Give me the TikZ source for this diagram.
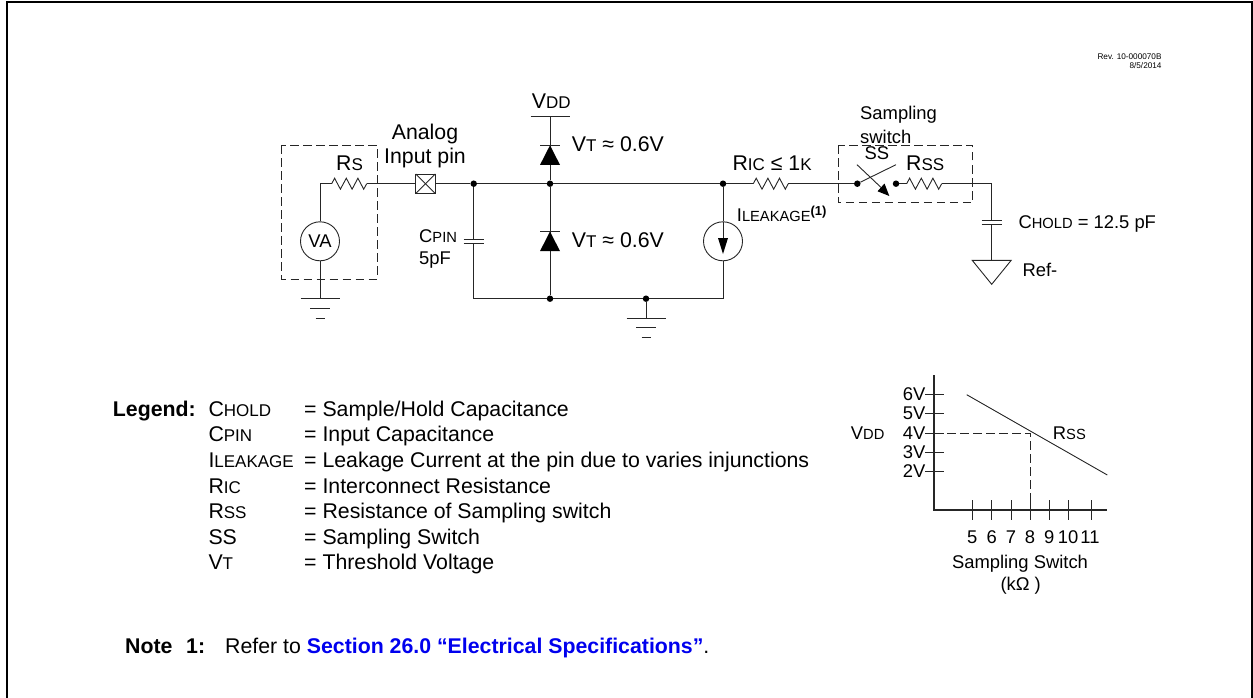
\documentclass[tikz,border=0pt]{standalone}
\usepackage{fontspec}
\setmainfont{Liberation Sans}
\usetikzlibrary{positioning, calc}

\newcommand{\lc}[1]{{\fontsize{17}{19}\selectfont #1}}
\newcommand{\ls}[1]{{\fontsize{14.7}{17}\selectfont #1}}

\tikzset{
    wire/.style={draw=black!85, line width=0.9pt},
    lbl/.style={anchor=base west, inner sep=0pt, font=\fontsize{21.3}{24}\selectfont},
    clbl/.style={anchor=base, inner sep=0pt, font=\fontsize{21.3}{24}\selectfont},
    slbl/.style={anchor=base west, inner sep=0pt, font=\fontsize{18.4}{22}\selectfont},
    sclbl/.style={anchor=base, inner sep=0pt, font=\fontsize{18.4}{22}\selectfont},
    fence/.style={draw=black!85, line width=0.9pt, dash pattern=on 8.5pt off 4.5pt},
    junction/.style={circle, fill=black, inner sep=0pt, minimum size=6.5pt},
    source/.style={circle, draw=black!85, line width=0.9pt, inner sep=0pt, minimum size=39pt},
    pinbox/.style={draw=black!85, line width=0.9pt, minimum size=19.5pt, inner sep=0pt,
        path picture={
            \draw[wire] (path picture bounding box.north west) -- (path picture bounding box.south east);
            \draw[wire] (path picture bounding box.south west) -- (path picture bounding box.north east);
        }},
    pics/ground/.style={code={
        \draw[wire] (-19.5,0) -- (19.5,0) (-10,9.7) -- (10,9.7) (-4.5,19.4) -- (4.5,19.4);
    }},
    pics/zigzag/.style={code={
        \draw[wire] (0,0) -- (2.9,-5.5) -- (8.7,5.5) -- (14.6,-5.5) -- (20.4,5.5) -- (26.2,-5.5) -- (32,5.5) -- (35,0);
    }},
    pics/diodeup/.style={code={
        \fill[black] (0,0) -- (10,19.6) -- (-10,19.6) -- cycle;
        \draw[wire] (-10,0) -- (10,0);
    }},
    pics/plates/.style={code={
        \draw[wire] (-10,-2) -- (10,-2) (-10,2) -- (10,2);
    }}
}

\begin{document}
\begin{tikzpicture}[x=1pt, y=-1pt]
    \useasboundingbox (0,0) rectangle (1253,698);
    % outer frame, open at the bottom
    \draw[line width=2pt] (6.5,698) -- (6.5,2) -- (1252,2) -- (1252,698);

    \node[anchor=base east, inner sep=0pt, font=\fontsize{8.2}{9}\selectfont] (rev) at (1161.7,59.3) {Rev. 10-000070B};
    \node[anchor=base east, inner sep=0pt, font=\fontsize{8.2}{9}\selectfont] (date) at (1161.7,68.7) {8/5/2014};

    % main circuit
    \coordinate (Rsin) at (320,183.7);
    \coordinate (Rsa) at (331.7,183.7);
    \coordinate (Rsb) at (366.7,183.7);
    \node[source] (VA) at (320,241.3) {};
    \node[font=\fontsize{18.4}{22}\selectfont, inner sep=0pt] (VAlbl) at (320,241.3) {VA};
    \node[pinbox] (Pin) at (425.5,183.7) {};
    \node[junction] (J1) at (473.7,183.7) {};
    \node[junction] (J2) at (550,183.7) {};
    \node[junction] (J3) at (723,183.7) {};
    \node[junction] (J4) at (550,298.7) {};
    \node[junction] (J5) at (646,298.7) {};
    \node[source] (IL) at (723,241.3) {};
    \coordinate (G1) at (320,298.7);
    \coordinate (G2) at (646,318);
    \coordinate (Cpa) at (473.7,239.3);
    \coordinate (Cpb) at (473.7,243.3);
    \coordinate (Cpc) at (473.7,298.7);
    \coordinate (Vdd) at (550,116.3);
    \coordinate (Corner) at (723,298.7);
    \coordinate (Rica) at (753.3,183.7);
    \coordinate (Ricb) at (788.3,183.7);
    \node[junction] (Sa) at (857.3,183.7) {};
    \node[junction] (Sb) at (896,183.7) {};
    \coordinate (Rssa) at (906.7,183.7);
    \coordinate (Rssb) at (941.7,183.7);
    \coordinate (Hold) at (991.7,183.7);
    \coordinate (Cha) at (991.7,220);
    \coordinate (Chb) at (991.7,224);
    \coordinate (Ref) at (991.7,260.3);

    \path[wire]
    (Rsin) edge (Rsa)
    (Rsin) edge (VA)
    (VA) edge (G1)
    (Rsb) edge (Pin)
    (Pin) edge (J1)
    (J1) edge (J2)
    (J2) edge (J3)
    (J3) edge (Rica)
    (J1) edge (Cpa)
    (Cpb) edge (Cpc)
    (Cpc) edge (J4)
    (J4) edge (J5)
    (J5) edge (Corner)
    (Corner) edge (IL)
    (J3) edge (IL)
    (J5) edge (G2)
    (Vdd) edge (J2)
    (J2) edge (J4)
    (Ricb) edge (Sa)
    (Sb) edge (Rssa)
    (Rssb) edge (Hold)
    (Hold) edge (Cha)
    (Chb) edge (Ref)
    ;
    \draw[wire] (530.5,116.3) -- (569.5,116.3);

    \pic at (Rsa) {zigzag};
    \pic at (Rica) {zigzag};
    \pic at (Rssa) {zigzag};
    \pic at (G1) {ground};
    \pic at (G2) {ground};
    \pic at (550,145.3) {diodeup};
    \pic at (550,231.5) {diodeup};
    \pic at (473.7,241.3) {plates};
    \pic at (991.7,222) {plates};

    % current source arrow and end triangle
    \fill[black] (718,238) -- (728,238) -- (723,254) -- cycle;
    \draw[wire] (723,222) -- (723,238);
    \draw[wire] (972.2,260.3) -- (1011.2,260.3) -- (991.7,284.3) -- cycle;

    % switch
    \draw[wire] (Sa) -- (896,164.7);
    \fill[black] (889.3,196) -- (877.5,191.3) -- (884.5,183.5) -- cycle;
    \draw[wire] (857,164.7) -- (881,187.4);

    % dashed boxes
    \draw[fence] (281.7,145.3) rectangle (377.3,279.3);
    \draw[fence] (838.3,145.3) rectangle (972.7,202.7);

    % circuit labels
    \node[clbl] (Analog) at (425,139.3) {Analog};
    \node[clbl] (Input) at (425,163.3) {Input pin};
    \node[lbl] (Rs) at (336,171) {R\lc{S}};
    \node[lbl] (VDD) at (531.7,109) {V\lc{DD}};
    \node[lbl] (VTa) at (571.7,151.7) {V\lc{T} ≈ 0.6V};
    \node[lbl] (VTb) at (571.7,247.7) {V\lc{T} ≈ 0.6V};
    \node[slbl] (CP) at (419,242.3) {C\ls{PIN}};
    \node[slbl] (CPv) at (419,264.3) {5pF};
    \node[lbl] (Ric) at (732.3,171) {R\lc{IC} ≤ 1\lc{K}};
    \node[slbl] (Ileak) at (736.7,221.7) {I\ls{LEAKAGE}{\fontsize{13}{14}\selectfont\raisebox{6pt}{\textbf{(1)}}}};
    \node[slbl] (Samp) at (860,120) {Sampling};
    \node[slbl] (Swi) at (860,143.3) {switch};
    \node[slbl] (SS) at (864.3,159.3) {SS};
    \node[lbl] (Rss) at (906,171) {R\lc{SS}};
    \node[slbl] (Chold) at (1018.3,228.3) {C\ls{HOLD} = 12.5 pF};
    \node[slbl] (RefL) at (1022.3,276) {Ref-};

    % legend
    \node[lbl, font=\fontsize{21.3}{24}\selectfont\bfseries] (Legend) at (112.7,416.7) {Legend:};
    \foreach \name/\what/\ypos in {
        C\lc{HOLD}/Sample\slash Hold Capacitance/416.7,
        C\lc{PIN}/Input Capacitance/441.7,
        I\lc{LEAKAGE}/Leakage Current at the pin due to varies injunctions/467.3,
        R\lc{IC}/Interconnect Resistance/493,
        R\lc{SS}/Resistance of Sampling switch/518.3,
        SS/Sampling Switch/544,
        V\lc{T}/Threshold Voltage/569.3}
    {
        \node[lbl] (N\ypos) at (208.3,\ypos) {\name};
        \node[lbl] (W\ypos) at (304,\ypos) {= \what};
    }

    % graph
    \coordinate (Otop) at (934,375);
    \coordinate (O) at (934,510);
    \coordinate (Xend) at (1107.3,510);
    \draw[line width=1.2pt, draw=black!85] (Otop) -- (O) -- (Xend);
    \foreach \v/\ypos in {6/394.7, 5/413.7, 4/433, 3/452, 2/471.3} {
        \draw[wire] (925,\ypos) -- (944,\ypos);
        \node[anchor=base east, inner sep=0pt, font=\fontsize{18.4}{22}\selectfont] (T\v) at (925.5,\ypos+6) {\v V};
    }
    \foreach \v/\xpos in {5/972.3, 6/991.7, 7/1011, 8/1030, 9/1049.3} {
        \draw[wire] (\xpos,500) -- (\xpos,520);
        \node[sclbl] (X\v) at (\xpos,543.3) {\v};
    }
    \foreach \v/\xpos/\lpos in {10/1068.7/1068, 11/1091.7/1090} {
        \draw[wire] (\xpos,500) -- (\xpos,520);
        \node[sclbl] (X\v) at (\lpos,543.3) {\v};
    }
    \draw[wire] (966.7,394.7) -- (1107.3,475);
    \draw[fence] (934,433) -- (1030,433) -- (1030,510);
    \node[slbl] (Vy) at (850.7,439) {V\ls{DD}};
    \node[slbl] (Rg) at (1052.7,439) {R\ls{SS}};
    \node[sclbl] (Xt) at (1020,568.3) {Sampling Switch};
    \node[sclbl] (Xu) at (1020.7,590.7) {(kΩ )};

    % note
    \node[lbl, font=\fontsize{21.3}{24}\selectfont\bfseries] (Note) at (125,653.5) {Note};
    \node[lbl, font=\fontsize{21.3}{24}\selectfont\bfseries] (Nnum) at (186,653.5) {1:};
    \node[lbl] (Ntxt) at (225,653.5) {Refer to {\bfseries\color[RGB]{0,0,238}Section 26.0 “Electrical Specifications”}.};
\end{tikzpicture}
\end{document}
